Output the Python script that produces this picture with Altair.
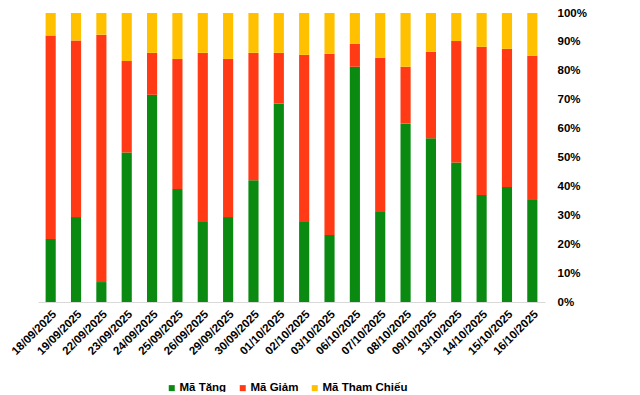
import altair as alt
import pandas as pd

dates = ["18/09/2025", "19/09/2025", "22/09/2025", "23/09/2025", "24/09/2025",
         "25/09/2025", "26/09/2025", "29/09/2025", "30/09/2025", "01/10/2025",
         "02/10/2025", "03/10/2025", "06/10/2025", "07/10/2025", "08/10/2025",
         "09/10/2025", "13/10/2025", "14/10/2025", "15/10/2025", "16/10/2025"]
tang = [21.8, 29.4, 6.9, 51.7, 71.7, 39.1, 27.7, 29.4, 42.1, 68.7,
        27.7, 23.2, 81.4, 31.1, 61.8, 56.7, 48.3, 37.0, 39.8, 35.3]
giam = [70.4, 61.1, 85.6, 31.7, 14.5, 45.0, 58.5, 54.7, 44.1, 17.5,
        57.8, 62.7, 7.9, 53.4, 19.6, 29.9, 42.0, 51.3, 47.8, 49.9]
tham_chieu = [7.8, 9.5, 7.5, 16.6, 13.8, 15.9, 13.8, 15.9, 13.8, 13.8,
              14.5, 14.1, 10.7, 15.5, 18.6, 13.4, 9.7, 11.7, 12.4, 14.8]
series = ["Mã Tăng", "Mã Giảm", "Mã Tham Chiếu"]
colors = ["#0A8A10", "#FF3A14", "#FFC000"]

rows = []
for i, d in enumerate(dates):
    for k, (name, vals) in enumerate(zip(series, [tang, giam, tham_chieu])):
        rows.append({"date": d, "series": name, "value": vals[i], "k": k})
df = pd.DataFrame(rows)

FONT = "Liberation Sans"

chart = alt.Chart(df).mark_bar().encode(
    x=alt.X("date:N", sort=dates, title=None,
            scale=alt.Scale(paddingInner=0.6, paddingOuter=0.3),
            axis=alt.Axis(labelAngle=-45, labelFontWeight="bold", labelFontSize=11.5,
                          labelFont=FONT, labelColor="#000000", ticks=False,
                          domainColor="#D9D9D9", domainWidth=1, labelPadding=6)),
    y=alt.Y("value:Q", stack="normalize", title=None,
            scale=alt.Scale(domain=[0, 1]),
            axis=alt.Axis(orient="right", format=".0%", values=[i / 10 for i in range(11)],
                          grid=False, domain=False, ticks=False, labelPadding=12,
                          labelFontWeight="bold", labelFontSize=11.5, labelFont=FONT,
                          labelColor="#000000")),
    color=alt.Color("series:N", sort=series,
                    scale=alt.Scale(domain=series, range=colors),
                    legend=alt.Legend(title=None, orient="none", legendX=128, legendY=369,
                                      direction="horizontal", columns=3,
                                      symbolType="square", symbolSize=36,
                                      symbolStrokeWidth=0, labelFont=FONT,
                                      labelFontSize=11.5, labelFontWeight="bold",
                                      labelColor="#000000", columnPadding=10,
                                      labelOffset=2, padding=0)),
    order=alt.Order("k:Q", sort="ascending"),
).properties(
    width=507, height=289,
    autosize=alt.AutoSizeParams(type="none"),
    padding={"left": 30, "top": 5, "right": 87, "bottom": 90},
).configure_view(stroke=None)

chart.save("out.html", embed_options={"renderer": "svg", "actions": False})
